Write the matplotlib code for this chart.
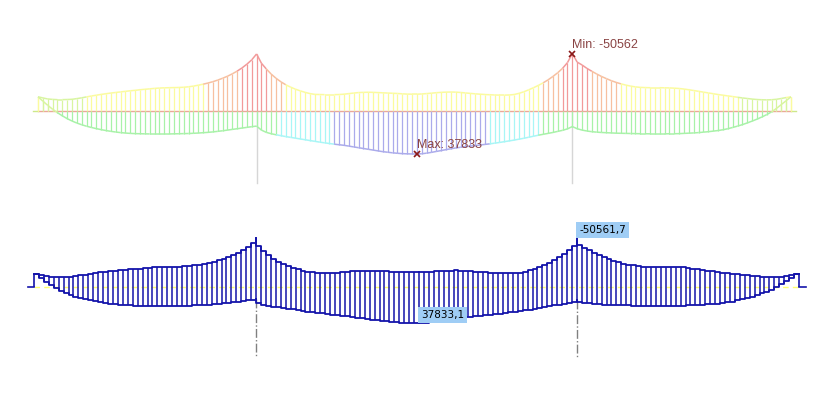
import numpy as np
import matplotlib.pyplot as plt
from matplotlib.collections import LineCollection
from matplotlib.colors import ListedColormap, BoundaryNorm

# stations along the bridge deck (m), spans 90 + 130 + 90
stations = np.arange(0, 312, 2)
pylons = [90, 220]

# envelope of bending moment (kNm): minimum (hogging) and maximum (sagging)
m_min = [
    # side span 1 (0..90)
    -12500, -11500, -10600, -10200, -10000, -10000, -10100, -10300, -10900, -11600,
    -12400, -13200, -13900, -14600, -15200, -15800, -16300, -16800, -17300, -17800,
    -18200, -18700, -19100, -19500, -19900, -20200, -20400, -20500, -20600, -20700,
    -20900, -21300, -21900, -22700, -23600, -24600, -25800, -27200, -28800, -30600,
    -32700, -35100, -37900, -41200, -45000, -50200,
    # main span (92..220)
    -42000, -37000, -32500, -28800, -25700, -23100, -21000, -19200, -17700, -16400,
    -15300, -14600, -14500, -14400, -14400, -14400, -14500, -14800, -15300, -15800,
    -16200, -16400, -16500, -16400, -16200, -16000, -15800, -15600, -15400, -15100,
    -14900, -14800, -14800, -15000, -15300, -15700, -16100, -16400, -16600, -16700,
    -16600, -16300, -15900, -15500, -15100, -14800, -14500, -14300, -14100, -14000,
    -14000, -14100, -14500, -15500, -16900, -18600, -20500, -22500, -24800, -27400,
    -30400, -33700, -37600, -42600, -50561.7,
    # side span 2 (222..310)
    -43000, -40500, -37500, -35000, -32600, -30400, -28500, -26700, -25200, -23900,
    -22800, -21900, -21200, -20800, -20600, -20500, -20500, -20500, -20400, -20300,
    -20100, -19800, -19300, -18700, -18000, -17300, -16600, -15900, -15200, -14500,
    -13900, -13300, -12700, -12100, -11500, -11000, -10500, -10100, -9900, -9800,
    -9900, -10300, -11000, -11800, -12500,
]
m_max = [
    # side span 1 (0..90)
    -12500, -8700, -5000, -1600, 1500, 4200, 6700, 8800, 10600, 12100,
    13400, 14500, 15500, 16400, 17200, 17900, 18500, 19000, 19400, 19700,
    19900, 20000, 20100, 20200, 20200, 20200, 20200, 20200, 20100, 20000,
    19900, 19800, 19600, 19400, 19100, 18800, 18400, 17900, 17400, 16800,
    16200, 15600, 15000, 14400, 13800, 13300,
    # main span (92..220)
    16800, 18800, 20000, 20900, 21700, 22500, 23200, 23900, 24600, 25300,
    26000, 26700, 27400, 28000, 28600, 29200, 29700, 30200, 30900, 31600,
    32300, 33000, 33700, 34400, 35100, 35800, 36300, 36800, 37200, 37500,
    37700, 37800, 37833.1, 37600, 37100, 36400, 35600, 34800, 34000, 33200,
    32500, 31900, 31400, 30900, 30400, 29900, 29400, 28900, 28300, 27700,
    27000, 26300, 25600, 24800, 24000, 23100, 22200, 21300, 20500, 19700,
    18900, 17900, 17000, 15700, 13700,
    # side span 2 (222..310)
    15600, 16800, 17600, 18200, 18600, 18900, 19100, 19300, 19500, 19600,
    19700, 19800, 19900, 20000, 20000, 20100, 20100, 20100, 20100, 20000,
    20000, 19900, 19700, 19500, 19300, 19000, 18600, 18200, 17700, 17200,
    16500, 15600, 14500, 13300, 12000, 10500, 8900, 7200, 5300, 3200,
    800, -2200, -5600, -9000, -12500,
]

m_min = np.array(m_min, dtype=float)
m_max = np.array(m_max, dtype=float)

band_edges = [-1e6, -36000, -24000, -12000, 0, 21000, 29000, 1e6]
band_colors = ["#f29a9a", "#f7c0a0", "#fbfb9e", "#d8f5a0", "#a8f2a8", "#a8f6f6", "#ababeb"]
cmap = ListedColormap(band_colors)
norm = BoundaryNorm(band_edges, cmap.N)

fig = plt.figure(figsize=(8.4, 4.0), dpi=100)

# ---------- top: coloured envelope ----------
ax1 = fig.add_axes([0, 0.5, 1, 0.5])
ax1.set_xlim(-15.64, 330.2)
ax1.set_ylim(78320, -97680)
ax1.axis("off")

for p in pylons:
    ax1.plot([p, p], [0, 63400], color="#d6d6d6", lw=1, zorder=1)

ax1.plot([stations[0], stations[-1]], [0, 0], color="#eba898", lw=1, zorder=2)
ax1.plot([stations[0] - 2, stations[0]], [0, 0], color="#cde88a", lw=1, zorder=2)
ax1.plot([stations[-1], stations[-1] + 2], [0, 0], color="#cde88a", lw=1, zorder=2)

for env in (m_min, m_max):
    hatch = [[(s, 0), (s, v)] for s, v in zip(stations, env)]
    ax1.add_collection(LineCollection(hatch, colors=cmap(norm(env)), lw=0.9, zorder=3))
    pts = np.column_stack([stations, env])
    segs = np.stack([pts[:-1], pts[1:]], axis=1)
    mid = (env[:-1] + env[1:]) / 2
    ax1.add_collection(LineCollection(segs, colors=cmap(norm(mid)), lw=1.1, zorder=4))

i_min = int(np.argmin(m_min))
i_max = int(np.argmax(m_max))
for i, env, lab in [(i_min, m_min, "Min: %d" % round(m_min[i_min])),
                    (i_max, m_max, "Max: %d" % round(m_max[i_max]))]:
    ax1.plot(stations[i], env[i], marker="x", color="#8b1a1a", ms=5, mew=1.2, zorder=6)
    ax1.annotate(lab, (stations[i], env[i]), xytext=(0, 2), textcoords="offset points",
                 ha="left", va="bottom", fontsize=9, color="#8a4444",
                 family=["Liberation Sans", "DejaVu Sans"], zorder=7)

# ---------- bottom: stepped envelope ----------
blue = "#1414aa"
ax2 = fig.add_axes([0, 0, 1, 0.5])
ax2.set_xlim(-13.78, 326.6)
ax2.set_ylim(118040, -89960)
ax2.axis("off")

ax2.plot([stations[0], stations[-1]], [0, 0], color="#ffff70", lw=1,
         linestyle=(0, (4, 3)), zorder=1)
ax2.plot([stations[0] - 2.5, stations[0]], [0, 0], color=blue, lw=1.2, zorder=3)
ax2.plot([stations[-1], stations[-1] + 2.8], [0, 0], color=blue, lw=1.2, zorder=3)
ax2.vlines([stations[0], stations[-1]], 0, [m_min[0], m_min[-1]], color=blue, lw=1.2, zorder=3)

for p in pylons:
    j = int(np.searchsorted(stations, p))
    ax2.plot([p, p], [m_max[j], 73300], color="#808080", lw=1, linestyle="-.", zorder=1)

ax2.vlines(stations, m_min, m_max, color=blue, lw=1.1, zorder=3)

# steps held towards the pylons so each support peak stays a sharp spike
mid_main = int(np.searchsorted(stations, (pylons[0] + pylons[1]) / 2))
j1 = int(np.searchsorted(stations, pylons[0]))
j2 = int(np.searchsorted(stations, pylons[1]))
pieces = [(0, j1, "post"), (j1, mid_main, "pre"), (mid_main, j2, "post"),
          (j2, len(stations) - 1, "pre")]
for env in (m_min, m_max):
    for a, b, where in pieces:
        ax2.step(stations[a:b + 1], env[a:b + 1], where=where, color=blue, lw=1.3, zorder=4)

for i, env in [(i_min, m_min), (i_max, m_max)]:
    ax2.annotate(("%.1f" % env[i]).replace(".", ","), (stations[i], env[i]),
                 xytext=(1.5, 2), textcoords="offset points", ha="left", va="bottom",
                 fontsize=7.5, color="black", family=["DejaVu Sans"], zorder=7,
                 bbox=dict(boxstyle="square,pad=0.3", fc="#9fcdf5", ec="none"))

fig.savefig("out.png", dpi=100)
